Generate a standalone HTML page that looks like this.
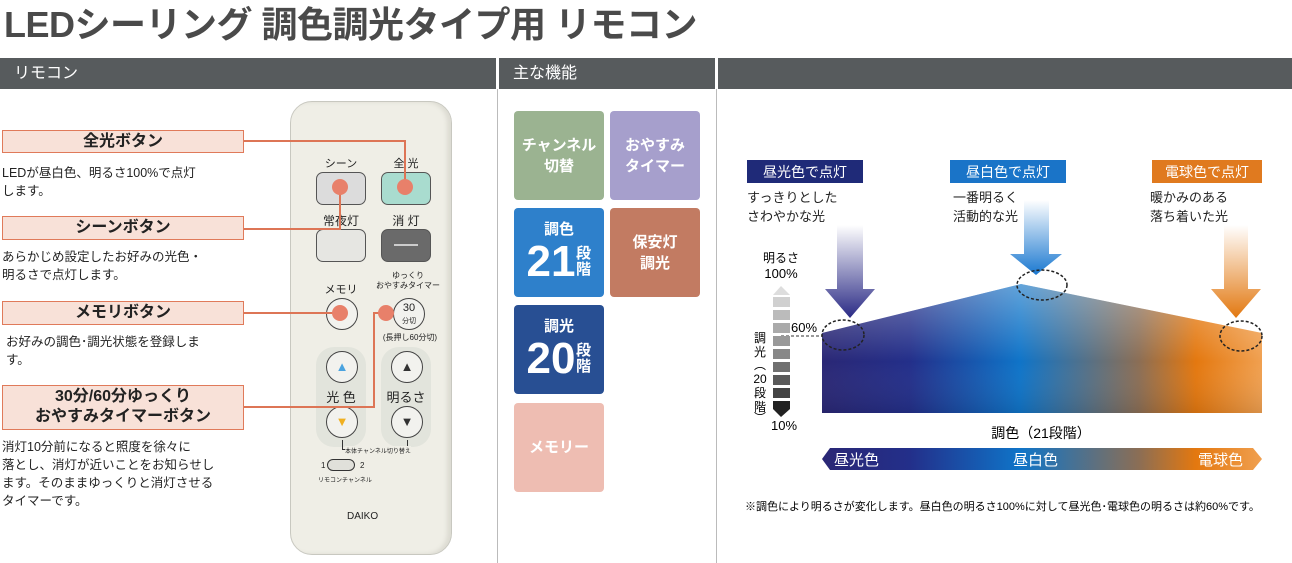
<!DOCTYPE html>
<html><head><meta charset="utf-8"><style>
*{margin:0;padding:0;box-sizing:border-box}
body{width:1292px;height:563px;background:#fff;position:relative;overflow:hidden;font-family:"Liberation Sans","Noto Sans CJK JP",sans-serif;color:#222}
.a{position:absolute}
.t{font-size:36px;font-weight:bold;color:#4a4a4a;left:4px;top:-4px;letter-spacing:-0.5px;white-space:nowrap}
.hb{top:58px;height:31px;background:#575b5d;color:#fff;font-size:16px;line-height:31px;padding-left:14px}
.vl{top:89px;width:1px;height:474px;background:#bbb}
.lb{left:2px;width:242px;background:#f8e1d8;border:1px solid #e07a5a;font-weight:bold;font-size:16px;text-align:center;line-height:21px}
.tx{left:2px;font-size:12.5px;line-height:18px;width:245px}
.ln{background:#dd7556}
.dot{width:16px;height:16px;border-radius:50%;background:#e8806a}
.tile{width:90px;height:89px;border-radius:4px;color:#fff;font-weight:bold;font-size:15px;display:flex;align-items:center;justify-content:center;text-align:center;line-height:21px}
.btn{border:1.5px solid #555;border-radius:7px}
.rb{font-size:11px;text-align:center;width:60px}
.cb{border:1.5px solid #444;border-radius:50%;background:#f2f2ee;width:32px;height:32px}
</style></head><body>
<div class="a t">LEDシーリング 調色調光タイプ用 リモコン</div>
<div class="a hb" style="left:0;width:496px">リモコン</div>
<div class="a hb" style="left:499px;width:216px">主な機能</div>
<div class="a hb" style="left:718px;width:574px"></div>
<div class="a vl" style="left:497px"></div>
<div class="a vl" style="left:716px"></div>

<!-- remote -->
<div class="a" style="left:290px;top:101px;width:162px;height:454px;border-radius:22px;background:#efeee6;border:1px solid #c8c8c0;box-shadow:inset -4px 0 4px #dcdbd2"></div>
<div class="a rb" style="left:311px;top:155px">シーン</div>
<div class="a rb" style="left:376px;top:155px">全 光</div>
<div class="a btn" style="left:316px;top:172px;width:50px;height:33px;background:#dcdcdc"></div>
<div class="a btn" style="left:381px;top:172px;width:50px;height:33px;background:#a9dccf"></div>
<div class="a rb" style="left:311px;top:212px;font-size:12px">常夜灯</div>
<div class="a rb" style="left:376px;top:212px;font-size:12px">消 灯</div>
<div class="a btn" style="left:316px;top:229px;width:50px;height:33px;background:#e6e6e2"></div>
<div class="a btn" style="left:381px;top:229px;width:50px;height:33px;background:#6a6a6a"></div>
<div class="a" style="left:394px;top:244px;width:24px;height:2px;background:#ccc"></div>
<div class="a rb" style="left:311px;top:281px">メモリ</div>
<div class="a rb" style="left:373px;top:271px;width:70px;font-size:8px;line-height:10px">ゆっくり<br>おやすみタイマー</div>
<div class="a cb" style="left:326px;top:298px"></div>
<div class="a cb" style="left:393px;top:298px;font-size:11px;text-align:center;line-height:12px;padding-top:3px">30<br><span style="font-size:7px">分切</span></div>
<div class="a rb" style="left:375px;top:332px;width:70px;font-size:8px">(長押し60分切)</div>
<div class="a" style="left:316px;top:347px;width:50px;height:100px;border-radius:18px;background:#e2e4dc"></div>
<div class="a" style="left:381px;top:347px;width:50px;height:100px;border-radius:18px;background:#e2e4dc"></div>
<div class="a cb" style="left:326px;top:351px;text-align:center;color:#4aa3df;font-size:13px;line-height:30px">▲</div>
<div class="a cb" style="left:391px;top:351px;text-align:center;color:#333;font-size:13px;line-height:30px">▲</div>
<div class="a rb" style="left:311px;top:387px;font-size:13px">光 色</div>
<div class="a rb" style="left:376px;top:387px;font-size:13px">明るさ</div>
<div class="a cb" style="left:326px;top:406px;text-align:center;color:#f0b020;font-size:13px;line-height:30px">▼</div>
<div class="a cb" style="left:391px;top:406px;text-align:center;color:#333;font-size:13px;line-height:30px">▼</div>
<div class="a" style="left:342px;top:440px;width:66px;height:10px;border:1px solid #333;border-top:none"></div>
<div class="a" style="left:345px;top:446px;font-size:6px;background:#efeee6">本体チャンネル切り替え</div>
<div class="a" style="left:321px;top:461px;font-size:8px">1</div>
<div class="a" style="left:327px;top:459px;width:28px;height:12px;border:1px solid #333;border-radius:6px;background:#e0e0da"></div>
<div class="a" style="left:360px;top:461px;font-size:8px">2</div>
<div class="a" style="left:318px;top:475px;font-size:6px">リモコンチャンネル</div>
<div class="a" style="left:347px;top:511px;font-size:10px">DAIKO</div>

<!-- lines -->
<div class="a ln" style="left:244px;top:140px;width:162px;height:2px"></div>
<div class="a ln" style="left:404px;top:140px;width:2px;height:48px"></div>
<div class="a ln" style="left:244px;top:228px;width:97px;height:2px"></div>
<div class="a ln" style="left:339px;top:188px;width:2px;height:41px"></div>
<div class="a ln" style="left:244px;top:312px;width:96px;height:2px"></div>
<div class="a ln" style="left:244px;top:406px;width:131px;height:2px"></div>
<div class="a ln" style="left:373px;top:313px;width:2px;height:95px"></div>
<div class="a ln" style="left:373px;top:312px;width:13px;height:2px"></div>
<div class="a dot" style="left:397px;top:179px"></div>
<div class="a dot" style="left:332px;top:179px"></div>
<div class="a dot" style="left:332px;top:305px"></div>
<div class="a dot" style="left:378px;top:305px"></div>

<div class="a lb" style="left:2px;top:130px;height:23px">全光ボタン</div>
<div class="a tx" style="top:164px">LEDが昼白色、明るさ100%で点灯<br>します。</div>
<div class="a lb" style="top:216px;height:24px">シーンボタン</div>
<div class="a tx" style="top:248px">あらかじめ設定したお好みの光色・<br>明るさで点灯します。</div>
<div class="a lb" style="top:301px;height:24px">メモリボタン</div>
<div class="a tx" style="top:333px;left:6px">お好みの調色･調光状態を登録しま<br>す。</div>
<div class="a lb" style="top:385px;height:45px;line-height:20px;padding-top:1px">30分/60分ゆっくり<br>おやすみタイマーボタン</div>
<div class="a tx" style="top:438px">消灯10分前になると照度を徐々に<br>落とし、消灯が近いことをお知らせし<br>ます。そのままゆっくりと消灯させる<br>タイマーです。</div>

<!-- tiles -->
<div class="a tile" style="left:514px;top:111px;background:#9bb391">チャンネル<br>切替</div>
<div class="a tile" style="left:610px;top:111px;background:#a69fcc">おやすみ<br>タイマー</div>
<div class="a tile" style="left:514px;top:208px;background:#2e80cb;flex-direction:column">調色<div style="display:flex;align-items:center;margin-top:-2px"><span style="font-size:44px;line-height:48px">21</span><span style="font-size:15px;line-height:16px;width:16px">段階</span></div></div>
<div class="a tile" style="left:610px;top:208px;background:#c27b62">保安灯<br>調光</div>
<div class="a tile" style="left:514px;top:305px;background:#284f93;flex-direction:column">調光<div style="display:flex;align-items:center;margin-top:-2px"><span style="font-size:44px;line-height:48px">20</span><span style="font-size:15px;line-height:16px;width:16px">段階</span></div></div>
<div class="a tile" style="left:514px;top:403px;background:#eebdb2">メモリー</div>

<!-- chart -->
<svg class="a" style="left:718px;top:89px" width="574" height="474" font-family="Liberation Sans, Noto Sans CJK JP, sans-serif">
<defs>
<linearGradient id="g" x1="0" x2="1" y1="0" y2="0"><stop offset="0" stop-color="#2a2775"/><stop offset="0.2" stop-color="#232f8a"/><stop offset="0.45" stop-color="#0f74c8"/><stop offset="0.72" stop-color="#8b6e55"/><stop offset="0.85" stop-color="#e4780f"/><stop offset="1" stop-color="#f0a050"/></linearGradient>
<linearGradient id="w" x1="0" x2="0" y1="0" y2="1"><stop offset="0" stop-color="#fff" stop-opacity="0.35"/><stop offset="0.6" stop-color="#fff" stop-opacity="0"/><stop offset="1" stop-color="#000" stop-opacity="0.1"/></linearGradient>
<linearGradient id="a1" x1="0" x2="0" y1="0" y2="1"><stop offset="0" stop-color="#fff"/><stop offset="1" stop-color="#2a2a85"/></linearGradient>
<linearGradient id="a2" x1="0" x2="0" y1="0" y2="1"><stop offset="0" stop-color="#fff"/><stop offset="1" stop-color="#1a78d0"/></linearGradient>
<linearGradient id="a3" x1="0" x2="0" y1="0" y2="1"><stop offset="0" stop-color="#fff"/><stop offset="1" stop-color="#e27810"/></linearGradient>
</defs>
<rect x="29" y="71" width="116" height="23" fill="#1f2a78"/><text x="87" y="88" fill="#fff" font-size="14" text-anchor="middle">昼光色で点灯</text>
<rect x="232" y="71" width="116" height="23" fill="#1a74c8"/><text x="290" y="88" fill="#fff" font-size="14" text-anchor="middle">昼白色で点灯</text>
<rect x="434" y="71" width="110" height="23" fill="#e07a1f"/><text x="489" y="88" fill="#fff" font-size="14" text-anchor="middle">電球色で点灯</text>
<g font-size="13" fill="#222"><text x="29" y="113">すっきりとした</text><text x="29" y="132">さわやかな光</text>
<text x="235" y="113">一番明るく</text><text x="235" y="132">活動的な光</text>
<text x="432" y="113">暖かみのある</text><text x="432" y="132">落ち着いた光</text></g>
<polygon points="104,244 303,195 544,244 544,324 104,324" fill="url(#g)"/>
<polygon points="104,244 303,195 544,244 544,324 104,324" fill="url(#w)"/>
<polygon points="119,136 145,136 145,200 157,200 132,229 107,200 119,200" fill="url(#a1)"/>
<polygon points="306,111 331,111 331,165 344,165 318,186 292,165 306,165" fill="url(#a2)"/>
<polygon points="506,136 530,136 530,200 543,200 518,229 493,200 506,200" fill="url(#a3)"/>
<g fill="none" stroke="#222" stroke-width="1.5" stroke-dasharray="3,2"><ellipse cx="125" cy="246" rx="21" ry="15"/><ellipse cx="324" cy="196" rx="25" ry="15"/><ellipse cx="523" cy="247" rx="21" ry="15"/></g>
<line x1="63" y1="247" x2="104" y2="247" stroke="#333" stroke-dasharray="3,2"/>
<text x="73" y="243" font-size="13">60%</text>
<text x="63" y="173" font-size="12" text-anchor="middle">明るさ</text><text x="63" y="189" font-size="13" text-anchor="middle">100%</text>
<polygon points="55,206 63,197 72,206" fill="#ddd"/>
<g><rect x="55" y="208" width="17" height="10" fill="#d0d0d0"/><rect x="55" y="221" width="17" height="10" fill="#bbb"/><rect x="55" y="234" width="17" height="10" fill="#aaa"/><rect x="55" y="247" width="17" height="10" fill="#999"/><rect x="55" y="260" width="17" height="10" fill="#888"/><rect x="55" y="273" width="17" height="10" fill="#707070"/><rect x="55" y="286" width="17" height="10" fill="#5a5a5a"/><rect x="55" y="299" width="17" height="10" fill="#444"/><polygon points="55,312 72,312 72,320 63,328 55,320" fill="#222"/></g>
<g font-size="12" text-anchor="middle"><text x="42" y="253">調</text><text x="42" y="267">光</text><text x="42" y="280">︵</text><text x="42" y="294">20</text><text x="42" y="308">段</text><text x="42" y="322">階</text><text x="42" y="333">︶</text></g>
<text x="66" y="341" font-size="13" text-anchor="middle">10%</text>
<text x="323" y="349" font-size="14" text-anchor="middle">調色（21段階）</text>
<polygon points="104,370 112,359 535,359 544,370 535,381 112,381" fill="url(#g)"/>
<g fill="#fff" font-size="15"><text x="116" y="376">昼光色</text><text x="295" y="376">昼白色</text><text x="480" y="376">電球色</text></g>
<text x="27" y="421" font-size="11">※調色により明るさが変化します。昼白色の明るさ100%に対して昼光色･電球色の明るさは約60%です。</text>
</svg>
</body></html>
